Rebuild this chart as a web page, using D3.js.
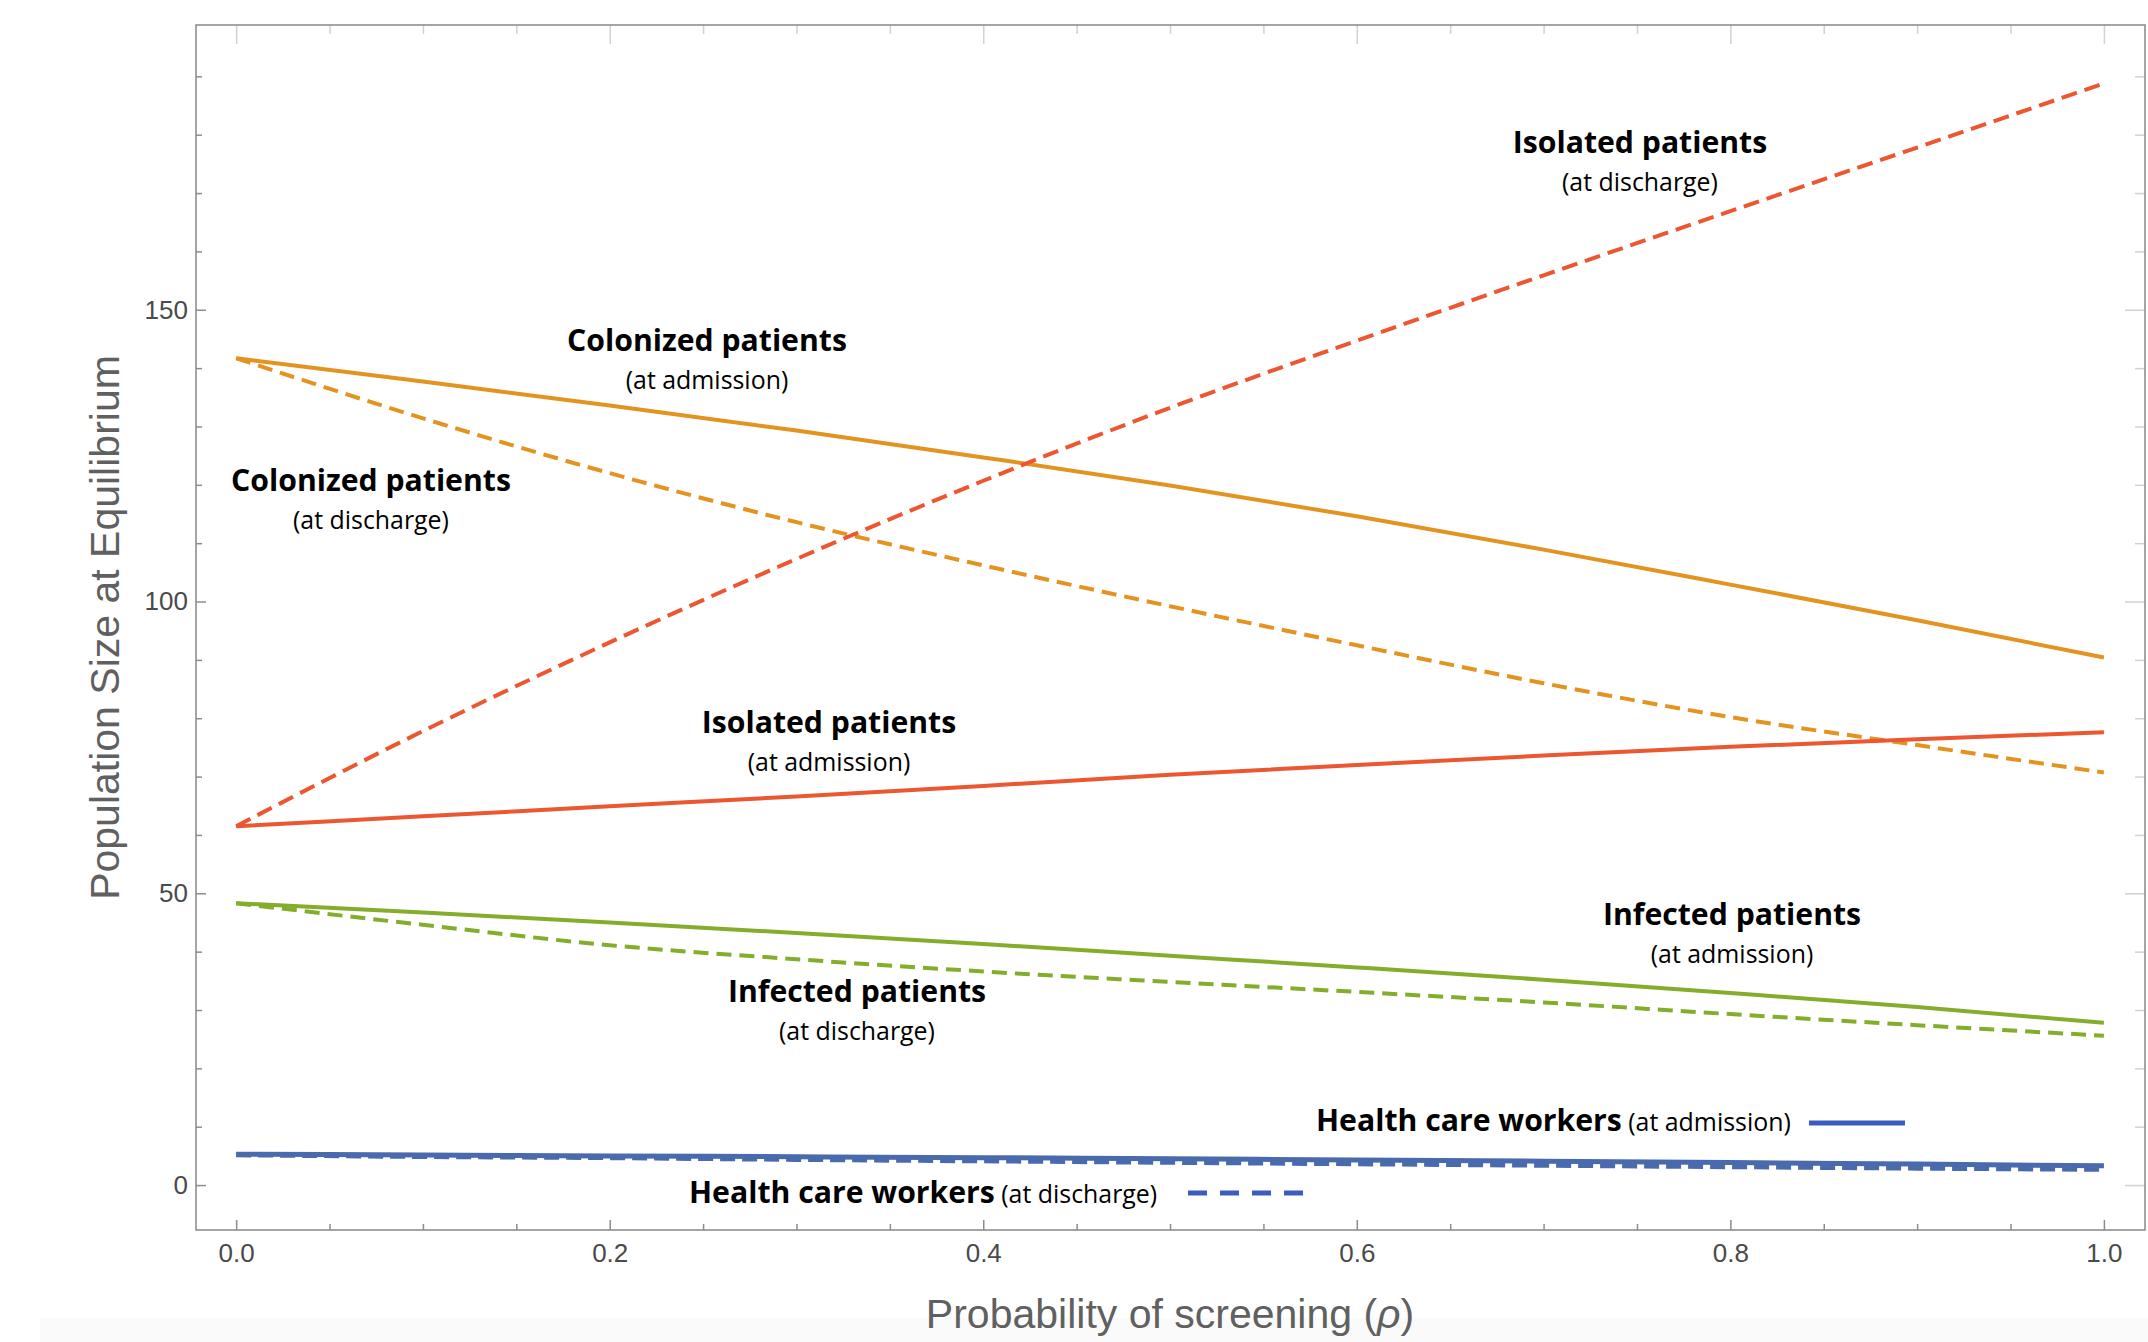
<!DOCTYPE html>
<html>
<head>
<meta charset="utf-8">
<script src="https://cdn.jsdelivr.net/npm/d3@7/dist/d3.min.js"></script>
<style>
  html, body { margin: 0; padding: 0; background: #ffffff; }
  svg { display: block; }
  .lbl-bold { font-family: "Open Sans", Lato, sans-serif; font-weight: 700; fill: #000; }
  .lbl-sub  { font-family: "Open Sans", Lato, sans-serif; font-weight: 400; fill: #000; }
  .tick text { font-family: "Liberation Sans", Arial, sans-serif; fill: #4a4a4a; }
  .axis-title { font-family: "Liberation Sans", Arial, sans-serif; fill: #606060; }
</style>
</head>
<body>
<script>
// Probability of screening (rho)
const rho = [0, 0.1, 0.2, 0.3, 0.4, 0.5, 0.6, 0.7, 0.8, 0.9, 1.0];

// Equilibrium population sizes
const colonizedAdmission = [141.7, 137.7, 133.6, 129.3, 124.7, 119.9, 114.6, 108.9, 102.9, 96.8, 90.4];
const colonizedDischarge = [141.7, 131.4, 122.0, 113.6, 106.2, 99.2, 92.5, 86.0, 80.2, 75.4, 70.7];
const isolatedAdmission  = [61.5, 63.2, 64.9, 66.6, 68.4, 70.3, 72.0, 73.6, 75.1, 76.4, 77.6];
const isolatedDischarge  = [61.5, 77.8, 93.0, 107.3, 120.7, 133.2, 144.7, 155.9, 166.9, 177.8, 188.8];
const infectedAdmission  = [48.3, 46.7, 45.0, 43.2, 41.3, 39.3, 37.3, 35.2, 32.9, 30.5, 27.8];
const infectedDischarge  = [48.3, 44.6, 41.1, 38.7, 36.6, 34.8, 33.1, 31.3, 29.3, 27.4, 25.6];
const hcwAdmission       = [5.3, 5.15, 5.0, 4.85, 4.7, 4.5, 4.3, 4.1, 3.85, 3.6, 3.3];
const hcwDischarge       = [5.2, 4.9, 4.7, 4.4, 4.15, 3.9, 3.65, 3.4, 3.15, 2.9, 2.7];

// Axis ticks
const yMajorTicks = [0, 50, 100, 150];
const yMinorTicks = [0, 10, 20, 30, 40, 50, 60, 70, 80, 90, 100, 110, 120, 130, 140, 150, 160, 170, 180, 190];
const xMajorTicks = [0, 0.2, 0.4, 0.6, 0.8, 1.0];
const xMinorTicks = d3.range(0, 21).map(i => i * 0.05);
const xDomain = [-0.0215, 1.022];
const yDomain = [-7.7, 198.8];

const W = 2148, H = 1342;
const frame = { left: 196, right: 2145, top: 25, bottom: 1230 };

const svg = d3.select("body").append("svg").attr("width", W).attr("height", H);

const x = d3.scaleLinear().domain(xDomain).range([frame.left, frame.right]);
const y = d3.scaleLinear().domain(yDomain).range([frame.bottom, frame.top]);

// faint band along the bottom edge
svg.append("rect").attr("x", 40).attr("y", 1318).attr("width", W - 40).attr("height", H - 1318)
  .attr("fill", "#fafafa");

// ---- frame ticks (pointing inward) ----
const minorOnlyX = xMinorTicks.filter(v => !xMajorTicks.some(m => Math.abs(m - v) < 1e-9));
const minorOnlyY = yMinorTicks.filter(v => !yMajorTicks.includes(v));

function drawAxis(g, axis, color, width) {
  g.call(axis);
  g.select(".domain").remove();
  g.selectAll(".tick line").attr("stroke", color).attr("stroke-width", width);
}

// bottom
let gb = svg.append("g").attr("transform", `translate(0,${frame.bottom})`);
drawAxis(gb, d3.axisBottom(x).tickValues(minorOnlyX).tickSize(-6).tickFormat(""), "#8c8c8c", 1.5);
gb = svg.append("g").attr("transform", `translate(0,${frame.bottom})`);
drawAxis(gb, d3.axisBottom(x).tickValues(xMajorTicks).tickSize(-10).tickPadding(14).tickFormat(d3.format(".1f")), "#8c8c8c", 1.5);
gb.selectAll(".tick text").attr("font-size", 26);

// left
let gl = svg.append("g").attr("transform", `translate(${frame.left},0)`);
drawAxis(gl, d3.axisLeft(y).tickValues(minorOnlyY).tickSize(-6).tickFormat(""), "#8c8c8c", 1.5);
gl = svg.append("g").attr("transform", `translate(${frame.left},0)`);
drawAxis(gl, d3.axisLeft(y).tickValues(yMajorTicks).tickSize(-10).tickPadding(8).tickFormat(d3.format("d")), "#8c8c8c", 1.5);
gl.selectAll(".tick text").attr("font-size", 26);

// top (no labels)
let gt = svg.append("g").attr("transform", `translate(0,${frame.top})`);
drawAxis(gt, d3.axisTop(x).tickValues(minorOnlyX).tickSize(-9).tickFormat(""), "#d2d2d2", 1.5);
gt = svg.append("g").attr("transform", `translate(0,${frame.top})`);
drawAxis(gt, d3.axisTop(x).tickValues(xMajorTicks).tickSize(-19).tickFormat(""), "#d2d2d2", 1.5);

// right (no labels)
let gr = svg.append("g").attr("transform", `translate(${frame.right},0)`);
drawAxis(gr, d3.axisRight(y).tickValues(minorOnlyY).tickSize(-10).tickFormat(""), "#d2d2d2", 1.5);
gr = svg.append("g").attr("transform", `translate(${frame.right},0)`);
drawAxis(gr, d3.axisRight(y).tickValues(yMajorTicks).tickSize(-20).tickFormat(""), "#d2d2d2", 1.5);

// frame box
svg.append("rect")
  .attr("x", frame.left).attr("y", frame.top)
  .attr("width", frame.right - frame.left).attr("height", frame.bottom - frame.top)
  .attr("fill", "none").attr("stroke", "#8f8f8f").attr("stroke-width", 1.6);

// ---- series ----
const ORANGE = "#e3931f", RED = "#ec5630", GREEN = "#84ad2b", BLUE = "#4a6aae", BLUE_KEY = "#3a5cc0";
const series = [
  { values: hcwDischarge,       color: BLUE,   dash: "15,7", width: 5 },
  { values: hcwAdmission,       color: BLUE,   dash: null,   width: 5 },
  { values: infectedDischarge,  color: GREEN,  dash: "15,8", width: 4 },
  { values: infectedAdmission,  color: GREEN,  dash: null,   width: 4 },
  { values: colonizedDischarge, color: ORANGE, dash: "15,8", width: 4 },
  { values: colonizedAdmission, color: ORANGE, dash: null,   width: 4 },
  { values: isolatedAdmission,  color: RED,    dash: null,   width: 4 },
  { values: isolatedDischarge,  color: RED,    dash: "16,8", width: 4 }
];

const line = d3.line()
  .x((d, i) => x(rho[i]))
  .y(d => y(d))
  .curve(d3.curveMonotoneX);

svg.append("g").selectAll("path").data(series).join("path")
  .attr("d", s => line(s.values))
  .attr("fill", "none")
  .attr("stroke", s => s.color)
  .attr("stroke-width", s => s.width)
  .attr("stroke-dasharray", s => s.dash)
  .attr("stroke-linecap", "butt");

// ---- in-plot labels ----
const BOLD_SIZE = 30.2, SUB_SIZE = 24.9;
const labels = [
  { title: "Isolated patients",  sub: "(at discharge)", cx: 1640, by: 153 },
  { title: "Colonized patients", sub: "(at admission)", cx: 707,  by: 351 },
  { title: "Colonized patients", sub: "(at discharge)", cx: 371,  by: 491 },
  { title: "Isolated patients",  sub: "(at admission)", cx: 829,  by: 733 },
  { title: "Infected patients",  sub: "(at discharge)", cx: 857,  by: 1002 },
  { title: "Infected patients",  sub: "(at admission)", cx: 1732, by: 925 }
];
const lg = svg.append("g");
labels.forEach(l => {
  lg.append("text").attr("class", "lbl-bold").attr("x", l.cx).attr("y", l.by)
    .attr("text-anchor", "middle").attr("font-size", BOLD_SIZE).text(l.title);
  lg.append("text").attr("class", "lbl-sub").attr("x", l.cx).attr("y", l.by + 38)
    .attr("text-anchor", "middle").attr("font-size", SUB_SIZE).text(l.sub);
});

// health care worker keys
const hcwKeys = [
  { title: "Health care workers", sub: " (at admission)", x: 1316, by: 1131, dash: null, kx0: 1809, kx1: 1905, ky: 1123 },
  { title: "Health care workers", sub: " (at discharge)", x: 689,  by: 1203, dash: "19,13", kx0: 1188, kx1: 1308, ky: 1193 }
];
hcwKeys.forEach(k => {
  const t = svg.append("text").attr("x", k.x).attr("y", k.by);
  t.append("tspan").attr("class", "lbl-bold").attr("font-size", BOLD_SIZE).text(k.title);
  t.append("tspan").attr("class", "lbl-sub").attr("font-size", SUB_SIZE).text(k.sub);
  svg.append("line").attr("x1", k.kx0).attr("x2", k.kx1).attr("y1", k.ky).attr("y2", k.ky)
    .attr("stroke", BLUE_KEY).attr("stroke-width", 5).attr("stroke-dasharray", k.dash);
});

// ---- axis titles ----
svg.append("text").attr("class", "axis-title")
  .attr("x", (x(0) + x(1)) / 2).attr("y", 1328)
  .attr("text-anchor", "middle").attr("font-size", 41)
  .html('Probability of screening (<tspan font-style="italic">ρ</tspan>)');

svg.append("text").attr("class", "axis-title")
  .attr("transform", `translate(119,${(frame.top + frame.bottom) / 2}) rotate(-90)`)
  .attr("text-anchor", "middle").attr("font-size", 41)
  .text("Population Size at Equilibrium");
</script>
</body>
</html>
